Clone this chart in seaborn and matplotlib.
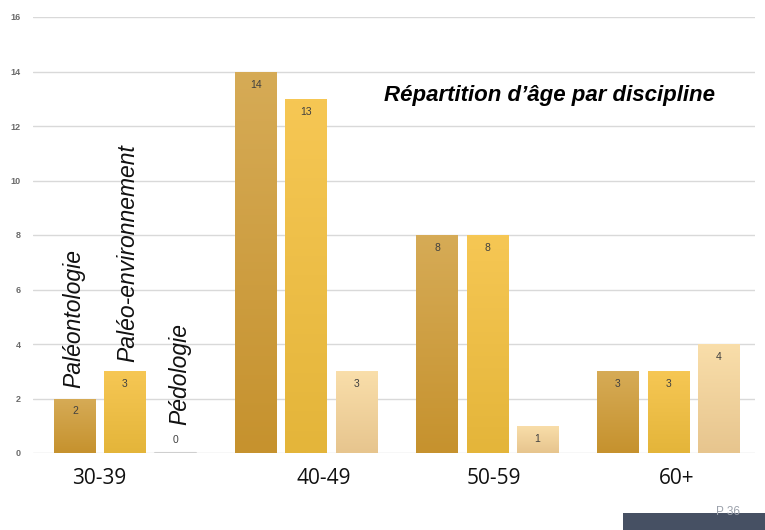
import numpy as np
import pandas as pd
import matplotlib
matplotlib.use("Agg")
import matplotlib.pyplot as plt
import matplotlib.transforms as mtransforms
from matplotlib.colors import to_rgb
from matplotlib.patches import Rectangle
import seaborn as sns

# Age groups and disciplines
age_groups = ["30-39", "40-49", "50-59", "60+"]
disciplines = ["Paléontologie", "Paléo-environnement", "Pédologie"]

# Headcount per discipline for each age group
paleontologie = [2, 14, 8, 3]
paleo_env = [3, 13, 8, 3]
pedologie = [0, 3, 1, 4]

y_ticks = [0, 2, 4, 6, 8, 10, 12, 14, 16]
title = "Répartition d’âge par discipline"
page_label = "P 36"

# Gradient colours (top, bottom) for each discipline
grad_colors = {
    "Paléontologie": ("#D6AB56", "#C6922E"),
    "Paléo-environnement": ("#F6C754", "#E4B53A"),
    "Pédologie": ("#F9DEAA", "#E7C58E"),
}

df = pd.DataFrame({
    "age": np.repeat(age_groups, len(disciplines)).tolist(),
    "discipline": disciplines * len(age_groups),
    "count": [v for trio in zip(paleontologie, paleo_env, pedologie) for v in trio],
})

sns.set_theme(style="white")
plt.rcParams["font.family"] = ["Liberation Sans", "DejaVu Sans"]

fig = plt.figure(figsize=(7.65, 5.30), dpi=100)
ax = fig.add_axes([33 / 765, 77 / 530, (755 - 33) / 765, (453 - 17) / 530])

palette = {d: grad_colors[d][0] for d in disciplines}
sns.barplot(data=df, x="age", y="count", hue="discipline", order=age_groups,
            hue_order=disciplines, palette=palette, width=0.83, gap=0.18,
            legend=False, ax=ax, linewidth=0, saturation=1)

ax.set_xlim(-0.508, 3.48)
ax.set_ylim(0, 16)
ax.set_yticks(y_ticks)
ax.set_yticklabels([str(t) for t in y_ticks], fontsize=6.5, color="#6B6B6B",
                   fontweight="bold")
ax.tick_params(axis="y", length=0, pad=9)
ax.set_xticks([])
ax.set_xlabel("")
ax.set_ylabel("")
for s in ax.spines.values():
    s.set_visible(False)
ax.yaxis.grid(True, color="#D9D9D9", linewidth=1.0)
ax.set_axisbelow(True)

# Vertical gradient fill on each bar, plus value labels
for container, disc in zip(ax.containers, disciplines):
    top_c, bot_c = (np.array(to_rgb(c)) for c in grad_colors[disc])
    grad = np.linspace(0, 1, 64)[:, None, None]
    img = top_c * (1 - grad) + bot_c * grad
    for patch, val in zip(container.patches, container.datavalues):
        x0 = patch.get_x()
        w = patch.get_width()
        h = patch.get_height()
        if h > 0:
            # soft shadow
            ax.add_patch(Rectangle((x0 + 0.004, 0), w, h, facecolor="#000000",
                                   alpha=0.08, linewidth=0, zorder=1.5))
            im = ax.imshow(img, extent=[x0, x0 + w, 0, h], aspect="auto",
                           origin="upper", zorder=2, interpolation="bilinear")
            im.set_clip_path(patch)
            ax.annotate(f"{int(val)}", (x0 + w / 2, h), xytext=(0, -13),
                        textcoords="offset pixels", ha="center", va="center",
                        fontsize=7.5, color="#404040")
        else:
            ax.plot([x0, x0 + w], [0, 0], color="#CFCFCF", linewidth=1.5, zorder=2)
            ax.annotate(f"{int(val)}", (x0 + w / 2, 0), xytext=(0, 13),
                        textcoords="offset pixels", ha="center", va="center",
                        fontsize=7.5, color="#404040")

ax.set_xlim(-0.508, 3.48)
ax.set_ylim(0, 16)

# Discipline names above the first group's bars
first_bars = [c.patches[0] for c in ax.containers]
name_offsets = [(-1, 11), (3, 9), (5, 28)]
for patch, name, (dx, dy) in zip(first_bars, disciplines, name_offsets):
    ax.annotate(name, (patch.get_x() + patch.get_width() / 2, patch.get_height()),
                xytext=(dx, dy), textcoords="offset pixels", rotation=90,
                ha="center", va="bottom", fontsize=16.5, fontstyle="italic",
                color="#111111")

# Age group labels under the axis
label_shift = [-0.14, 0.10, 0.04, 0.05]
trans = mtransforms.blended_transform_factory(ax.transData, ax.transAxes)
for i, (lab, sh) in enumerate(zip(age_groups, label_shift)):
    ax.text(i + sh, -25 / 436, lab, transform=trans, ha="center", va="center",
            fontsize=15, family=["Open Sans", "DejaVu Sans"], color="#111111")

# Title
fig.text(550 / 765, 1 - 95 / 530, title, ha="center", va="center",
         fontsize=16, fontweight="bold", fontstyle="italic", color="#000000")

# Footer bar with page number
fig.add_artist(Rectangle((623 / 765, 0), (765 - 623) / 765, 17 / 530,
                         transform=fig.transFigure, facecolor="#465063",
                         edgecolor="none"))
fig.text(728 / 765, 1 - 512 / 530, page_label, ha="center", va="center",
         fontsize=8.5, color="#9BA1AB")

fig.savefig("out.png", dpi=100)
